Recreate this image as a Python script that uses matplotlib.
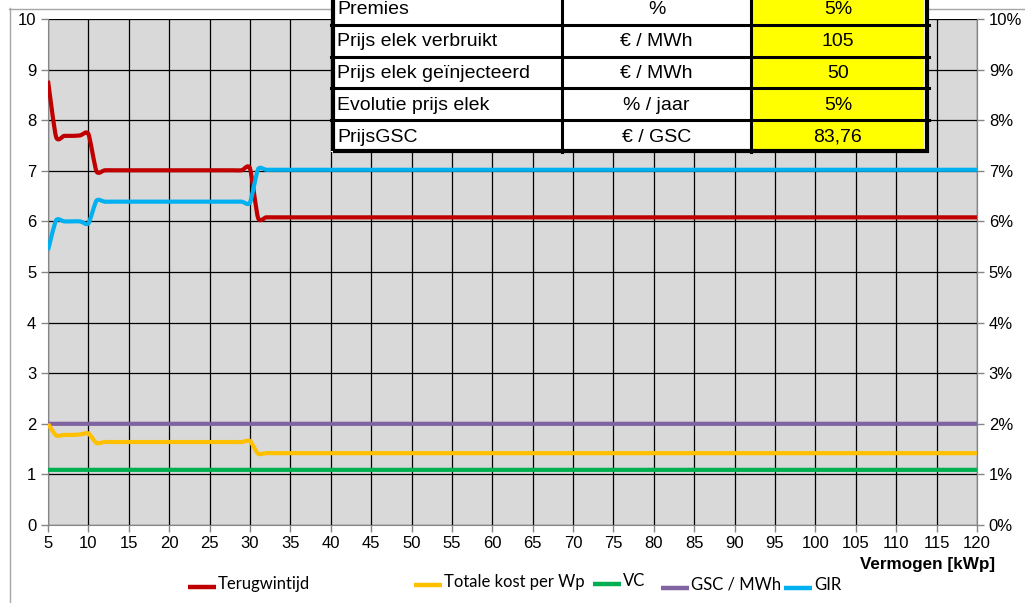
import matplotlib.pyplot as plt
import numpy as np
from matplotlib.path import Path
from matplotlib.patches import PathPatch, Rectangle
from matplotlib.lines import Line2D

plt.rcParams['font.family'] = ['Liberation Sans', 'DejaVu Sans']

# Vermogen in kWp, one point per kWp
vermogen = list(range(5, 121))

# Terugwintijd (jaren)
terugwintijd = ([8.78, 7.67, 7.69, 7.69, 7.70, 7.73, 6.99]
                + [7.01] * 18 + [7.05, 6.07] + [6.08] * 89)
# Totale kost per Wp (EUR)
kost_per_wp = ([2.00, 1.77, 1.78, 1.78, 1.79, 1.81, 1.62]
               + [1.64] * 18 + [1.66, 1.41] + [1.42] * 89)
# VC en GSC / MWh
vc = [1.09] * 116
gsc_mwh = [2.0] * 116
# GIR in procent (rechter as)
gir = ([5.43, 6.02, 6.00, 6.00, 6.00, 5.96, 6.41]
       + [6.39] * 18 + [6.37, 7.03] + [7.02] * 89)

tabel_labels = ['Premies', 'Prijs elek verbruikt', 'Prijs elek geïnjecteerd',
                'Evolutie prijs elek', 'PrijsGSC']
tabel_eenheden = ['%', '€ / MWh', '€ / MWh', '% / jaar', '€ / GSC']
tabel_waarden = ['5%', '105', '50', '5%', '83,76']

W, H = 1025, 603


def fx(x):
    return x / W


def fy(y):
    return 1 - y / H


def smooth_line(ax, xs, ys, color, lw=3, k=9.0):
    # Bezier curve through the points, like a smoothed spreadsheet line
    xs = np.asarray(xs, float)
    ys = np.asarray(ys, float)
    pts = np.column_stack([xs, ys])
    n = len(pts)
    verts = [pts[0]]
    codes = [Path.MOVETO]
    for i in range(n - 1):
        p0 = pts[i - 1] if i > 0 else pts[i]
        p1 = pts[i]
        p2 = pts[i + 1]
        p3 = pts[i + 2] if i + 2 < n else pts[i + 1]
        c1 = p1 + (p2 - p0) / k
        c2 = p2 - (p3 - p1) / k
        verts += [c1, c2, p2]
        codes += [Path.CURVE4] * 3
    patch = PathPatch(Path(verts, codes), facecolor='none', edgecolor=color,
                      lw=lw, capstyle='butt', joinstyle='round', zorder=3)
    ax.add_patch(patch)


fig = plt.figure(figsize=(W / 100, H / 100), dpi=100)

# chart border
fig.add_artist(Line2D([fx(9), fx(1030)], [fy(8.5), fy(8.5)], color='#a6a6a6', lw=1))
fig.add_artist(Line2D([fx(9.5), fx(9.5)], [fy(8), fy(610)], color='#a6a6a6', lw=1))

ax = fig.add_axes([fx(48), fy(525), (977 - 48) / W, (525 - 19) / H])
ax.set_facecolor('#d9d9d9')
ax.set_xlim(5, 120)
ax.set_ylim(0, 10)
ax.set_xticks(range(5, 121, 5))
ax.set_yticks(range(0, 11))
ax.grid(True, color='black', lw=0.9)
ax.set_axisbelow(True)
ax.spines['top'].set_visible(False)
for side in ['left', 'bottom', 'right']:
    ax.spines[side].set_color('#868686')
ax.tick_params(axis='both', colors='#868686', labelcolor='black', labelsize=12,
               length=5, width=1)
ax.tick_params(axis='x', pad=3)

smooth_line(ax, vermogen, gsc_mwh, '#8064a2')
smooth_line(ax, vermogen, vc, '#00b050')
smooth_line(ax, vermogen, kost_per_wp, '#ffc000')
smooth_line(ax, vermogen, terugwintijd, '#c00000')

ax2 = ax.twinx()
ax2.set_ylim(0, 10)
ax2.set_yticks(range(0, 11))
ax2.set_yticklabels([f'{v}%' for v in range(0, 11)])
for side in ['top', 'left', 'bottom']:
    ax2.spines[side].set_visible(False)
ax2.spines['right'].set_color('#868686')
ax2.tick_params(axis='y', colors='#868686', labelcolor='black', labelsize=12,
                length=5, width=1)
smooth_line(ax2, vermogen, gir, '#00b0f0')

fig.text(fx(995), fy(565), 'Vermogen [kWp]', ha='right', va='center',
         fontsize=12.3, fontweight='bold')

# legend
legend_items = [
    ('Terugwintijd', '#c00000', 188, 584),
    ('Totale kost per Wp', '#ffc000', 414, 582),
    ('VC', '#00b050', 593, 581),
    ('GSC / MWh', '#8064a2', 661, 585),
    ('GIR', '#00b0f0', 784, 585),
]
for name, color, x0, yc in legend_items:
    fig.add_artist(Line2D([fx(x0), fx(x0 + 28)], [fy(yc + 3), fy(yc + 3)],
                          color=color, lw=3.2, solid_capstyle='butt'))
    fig.text(fx(x0 + 30), fy(yc), name, ha='left', va='center',
             fontsize=12, family=['Lato', 'DejaVu Sans'])

# parameter table over the chart
col_x = [331, 562, 751, 929]
row_y = [-7, 25, 57, 88, 120, 152]
fig.add_artist(Rectangle((fx(col_x[0]), fy(row_y[-1])), (col_x[-1] - col_x[0]) / W,
                         (row_y[-1] - row_y[0]) / H, facecolor='white',
                         edgecolor='none', zorder=5))
for r in range(5):
    y_top, y_bot = row_y[r], row_y[r + 1]
    fig.add_artist(Rectangle((fx(col_x[2]), fy(y_bot)), (924 - col_x[2]) / W,
                             (y_bot - y_top) / H, facecolor='#ffff00',
                             edgecolor='none', zorder=6))
    yc = (y_top + y_bot) / 2 + 1
    fig.text(fx(337), fy(yc), tabel_labels[r], ha='left', va='center',
             fontsize=14, zorder=8)
    fig.text(fx((col_x[1] + col_x[2]) / 2), fy(yc), tabel_eenheden[r],
             ha='center', va='center', fontsize=14, zorder=8)
    fig.text(fx(838), fy(yc), tabel_waarden[r], ha='center', va='center',
             fontsize=14, zorder=8)
for y in row_y[1:-1]:
    fig.add_artist(Line2D([fx(col_x[0]), fx(col_x[-1])], [fy(y), fy(y)],
                          color='black', lw=2.2, zorder=7))
for x in col_x[1:-1]:
    fig.add_artist(Line2D([fx(x), fx(x)], [fy(row_y[0]), fy(row_y[-1])],
                          color='black', lw=2.2, zorder=7))
fig.add_artist(Rectangle((fx(col_x[0] + 1.5), fy(row_y[-1] - 1.5)),
                         (col_x[-1] - col_x[0] - 3) / W,
                         (row_y[-1] - row_y[0] - 3) / H,
                         facecolor='none', edgecolor='black', lw=3, zorder=7))

fig.savefig('out.png', dpi=100)
